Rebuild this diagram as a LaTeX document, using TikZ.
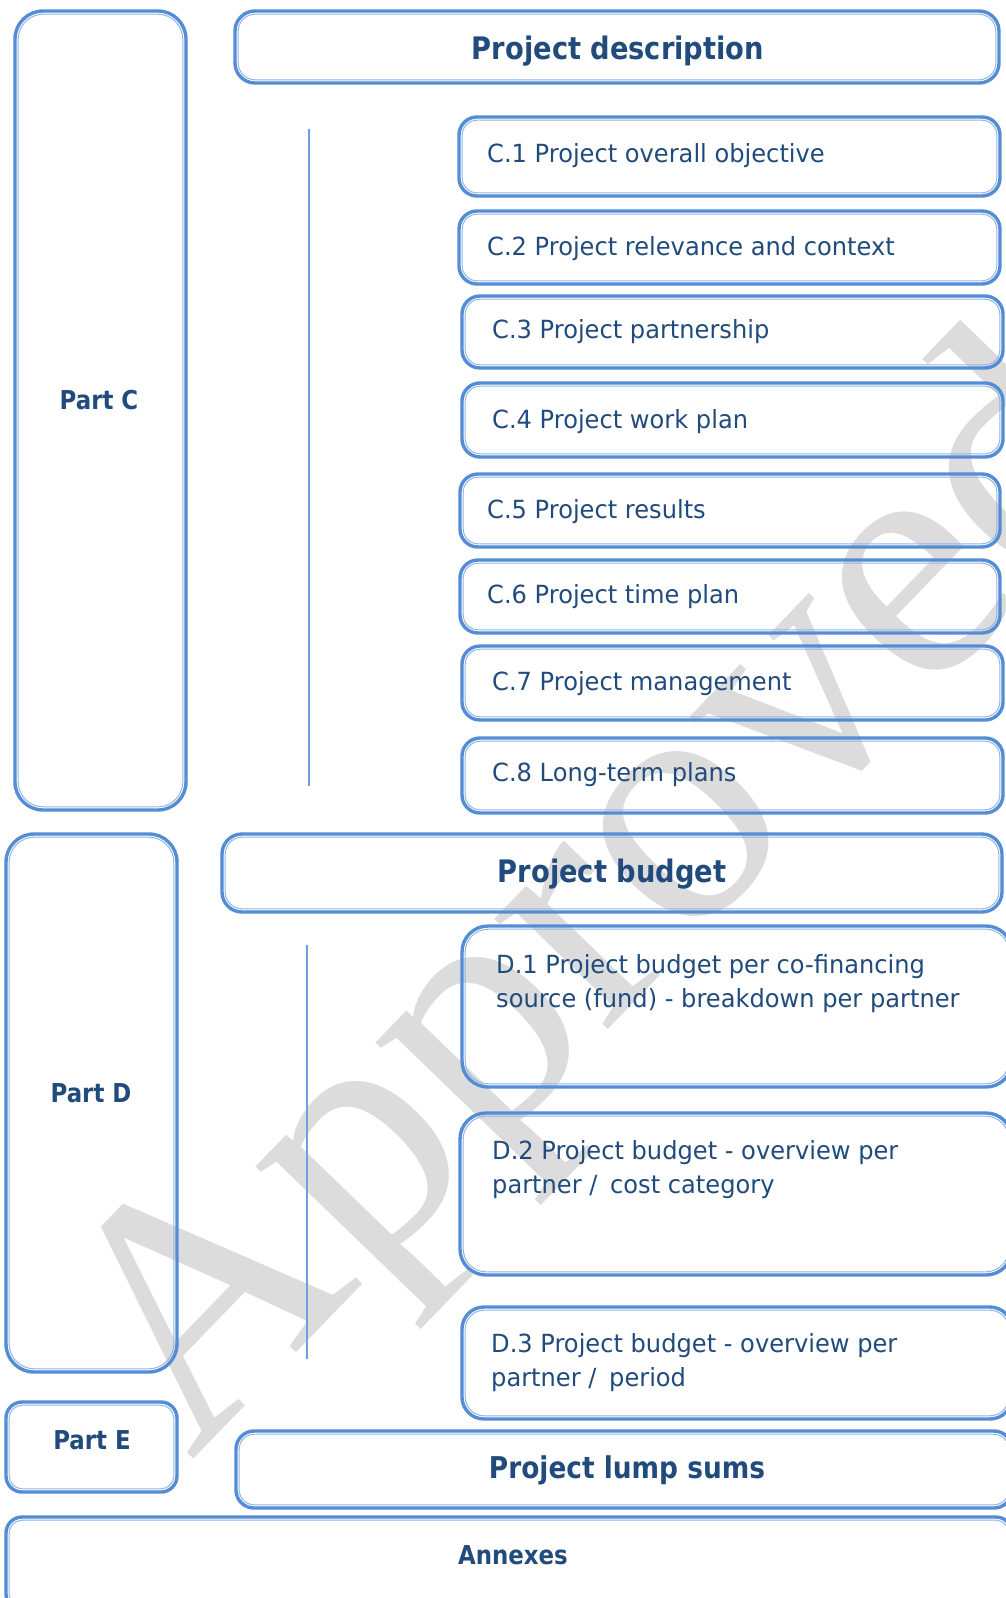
\documentclass[tikz,border=0pt]{standalone}
\usepackage{fontspec}
\newfontfamily\bodyf{DejaVu Sans}[FakeStretch=0.965]
\newfontfamily\headf{DejaVu Sans}[FakeStretch=0.88]
\newfontfamily\wmf{Liberation Serif}
\definecolor{boxblue}{RGB}{84,141,212}
\definecolor{innerblue}{RGB}{145,183,228}
\definecolor{txtblue}{RGB}{33,75,124}
\definecolor{linblue}{RGB}{110,160,222}
\definecolor{wmgray}{RGB}{220,220,220}
\tikzset{
  outerbox/.style={draw=boxblue, line width=3.4pt, inner sep=0pt, outer sep=0pt},
  innerline/.style={draw=innerblue, line width=1pt},
  body/.style={text=txtblue, font=\bodyf\fontsize{25}{30}\selectfont, inner sep=0pt, anchor=base west},
  head/.style={text=txtblue, font=\headf\bfseries\fontsize{31}{36}\selectfont, inner sep=0pt, anchor=base},
  part/.style={text=txtblue, font=\headf\bfseries\fontsize{26}{30}\selectfont, inner sep=0pt, anchor=base},
  vline/.style={draw=linblue, line width=1.4pt},
  wm/.style={text=wmgray, font=\wmf\fontsize{345}{345}\selectfont, inner sep=0pt, anchor=base west}
}
\newcommand\dblbox[6]{%
  \node[outerbox, rounded corners=#6pt, minimum width={(#4-#2)*1pt}, minimum height={(#5-#3)*1pt}] (#1) at ({(#2+#4)/2},{(#3+#5)/2}) {};
  \draw[innerline, rounded corners={#6pt-3pt}] ([shift={(3.2pt,-3.2pt)}]#1.north west) rectangle ([shift={(-3.2pt,3.2pt)}]#1.south east);
}
\begin{document}
\begin{tikzpicture}[x=1pt,y=-1pt]
\useasboundingbox (0,0) rectangle (1006,1598);
\clip (0,0) rectangle (1006,1598);
\fill[white] (0,0) rectangle (1006,1598);
% watermark
\node[wm, rotate=46] (wmark) at (191,1462) {Approved};
% boxes
\dblbox{partC}{15}{11}{186}{810}{28}
\dblbox{desc}{235}{11}{999}{83}{20}
\dblbox{c1}{459}{117}{1000}{196}{18}
\dblbox{c2}{459}{211}{1000}{284}{18}
\dblbox{c3}{462}{296}{1003}{368}{18}
\dblbox{c4}{462}{383}{1003}{457}{18}
\dblbox{c5}{460}{474}{1000}{547}{18}
\dblbox{c6}{460}{560}{1000}{633}{18}
\dblbox{c7}{462}{646}{1003}{720}{18}
\dblbox{c8}{462}{738}{1003}{813}{18}
\dblbox{partD}{6}{834}{177}{1372}{28}
\dblbox{budget}{222}{834}{1002}{912}{20}
\dblbox{d1}{462}{926}{1012}{1087}{26}
\dblbox{d2}{460}{1113}{1012}{1275}{26}
\dblbox{d3}{462}{1307}{1012}{1419}{22}
\dblbox{partE}{6}{1402}{177}{1492}{16}
\dblbox{lump}{236}{1431}{1012}{1508}{18}
\dblbox{annex}{6}{1517}{1012}{1610}{16}
% vertical lines
\coordinate (cl1) at (309,129);
\coordinate (cl2) at (309,786);
\draw[vline] (cl1) -- (cl2);
\coordinate (dl1) at (307,945);
\coordinate (dl2) at (307,1359);
\draw[vline] (dl1) -- (dl2);
% texts
\node[head] (tdesc) at (618,59) {Project description};
\node[part] (tpartC) at (99,409) {Part C};
\node[body] (tc1) at (487,162) {C.1 Project overall objective};
\node[body] (tc2) at (487,255) {C.2 Project relevance and context};
\node[body] (tc3) at (492,338) {C.3 Project partnership};
\node[body] (tc4) at (492,428) {C.4 Project work plan};
\node[body] (tc5) at (487,518) {C.5 Project results};
\node[body] (tc6) at (487,603) {C.6 Project time plan};
\node[body] (tc7) at (492,690) {C.7 Project management};
\node[body] (tc8) at (492,781) {C.8 Long-term plans};
\node[head] (tbudget) at (612,882) {Project budget};
\node[part] (tpartD) at (91,1102) {Part D};
\node[body] (td1a) at (496,973) {D.1 Project budget per co-financing};
\node[body] (td1b) at (496,1007) {source (fund) - breakdown per partner};
\node[body] (td2a) at (492,1159) {D.2 Project budget - overview per};
\node[body] (td2b) at (492,1193) {partner /\hspace{5pt} cost category};
\node[body] (td3a) at (491,1352) {D.3 Project budget - overview per};
\node[body] (td3b) at (491,1386) {partner /\hspace{5pt} period};
\node[part] (tpartE) at (92,1449) {Part E};
\node[head, font=\headf\bfseries\fontsize{30}{36}\selectfont] (tlump) at (627,1478) {Project lump sums};
\node[part] (tannex) at (513,1564) {Annexes};
\end{tikzpicture}
\end{document}
